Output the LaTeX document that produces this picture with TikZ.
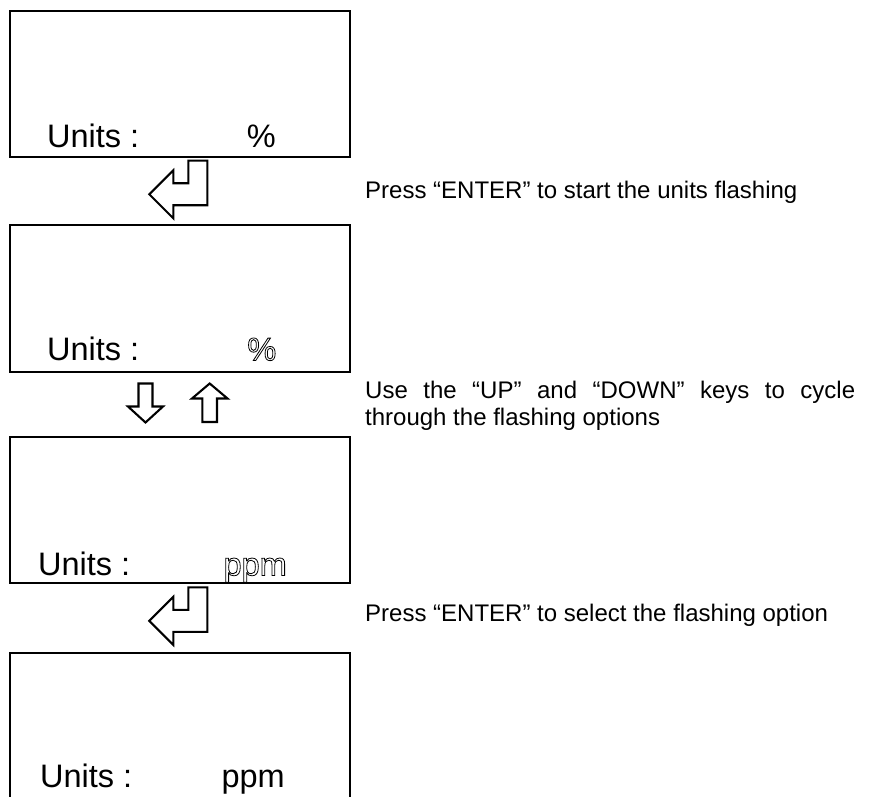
\documentclass[tikz,border=0pt]{standalone}
\usepackage{fontspec}
\setmainfont{Liberation Sans}
\newcommand\hollowtext[1]{\special{pdf:literal direct 1 Tr 0.8 w}#1\special{pdf:literal direct 0 Tr}}
\tikzset{
  lcdbox/.style={draw, line width=2pt, rectangle, minimum width=340pt, minimum height=146.5pt, inner sep=0pt, anchor=north west},
  unitlbl/.style={font=\fontsize{32.5}{38}\selectfont, inner sep=0pt},
  rtext/.style={font=\fontsize{24}{27.6}\selectfont, inner sep=0pt, anchor=base west},
  keysym/.style={draw, line width=2.1pt, line join=miter, miter limit=10},
  pics/enterkey/.style={code={
    \draw[keysym] (0,0) -- (24,-24) -- (24,-11) -- (39,-11) -- (39,-33.6) -- (58,-33.6) -- (58,11) -- (24,11) -- (24,24) -- cycle;
  }}
}
\begin{document}
\begin{tikzpicture}[x=1pt,y=-1pt]
\useasboundingbox (0,0) rectangle (871,797);
% boxes
\node[lcdbox] (b1) at (9,10) {};
\node[lcdbox] (b2) at (9,224) {};
\node[lcdbox] (b3) at (9,435.5) {};
\node[lcdbox] (b4) at (9,651.5) {};
% box texts
\node[unitlbl, anchor=base west] (u1) at (47,148) {Units :};
\node[unitlbl, anchor=base east] (v1) at (276,148) {\%};
\node[unitlbl, anchor=base west] (u2) at (47,360.5) {Units :};
\node[unitlbl, anchor=base east] (v2) at (276.5,360.5) {\hollowtext{\%}};
\node[unitlbl, anchor=base west] (u3) at (38,575.5) {Units :};
\node[unitlbl, anchor=base east] (v3) at (287,575.5) {\hollowtext{ppm}};
\node[unitlbl, anchor=base west] (u4) at (40,787.5) {Units :};
\node[unitlbl, anchor=base east] (v4) at (285,787.5) {ppm};
% key symbols
\pic at (149.3,194.3) {enterkey};
\pic at (149.3,620.9) {enterkey};
\draw[keysym] (138.5,383.5) -- (152.5,383.5) -- (152.5,406.5) -- (163,406.5) -- (145.5,422.5) -- (128,406.5) -- (138.5,406.5) -- cycle;
\draw[keysym] (209.7,383.5) -- (227.5,398.5) -- (217,398.5) -- (217,422) -- (202.4,422) -- (202.4,398.5) -- (192,398.5) -- cycle;
% descriptions
\node[rtext] (t1) at (365,198.3) {Press “ENTER” to start the units flashing};
\node[rtext] (t2) at (365,398.3) {\parbox[t]{490pt}{\fontsize{24}{27.6}\selectfont Use the “UP” and “DOWN” keys to cycle through the flashing options}};
\node[rtext] (t3) at (365,621) {Press “ENTER” to select the flashing option};
\end{tikzpicture}
\end{document}
